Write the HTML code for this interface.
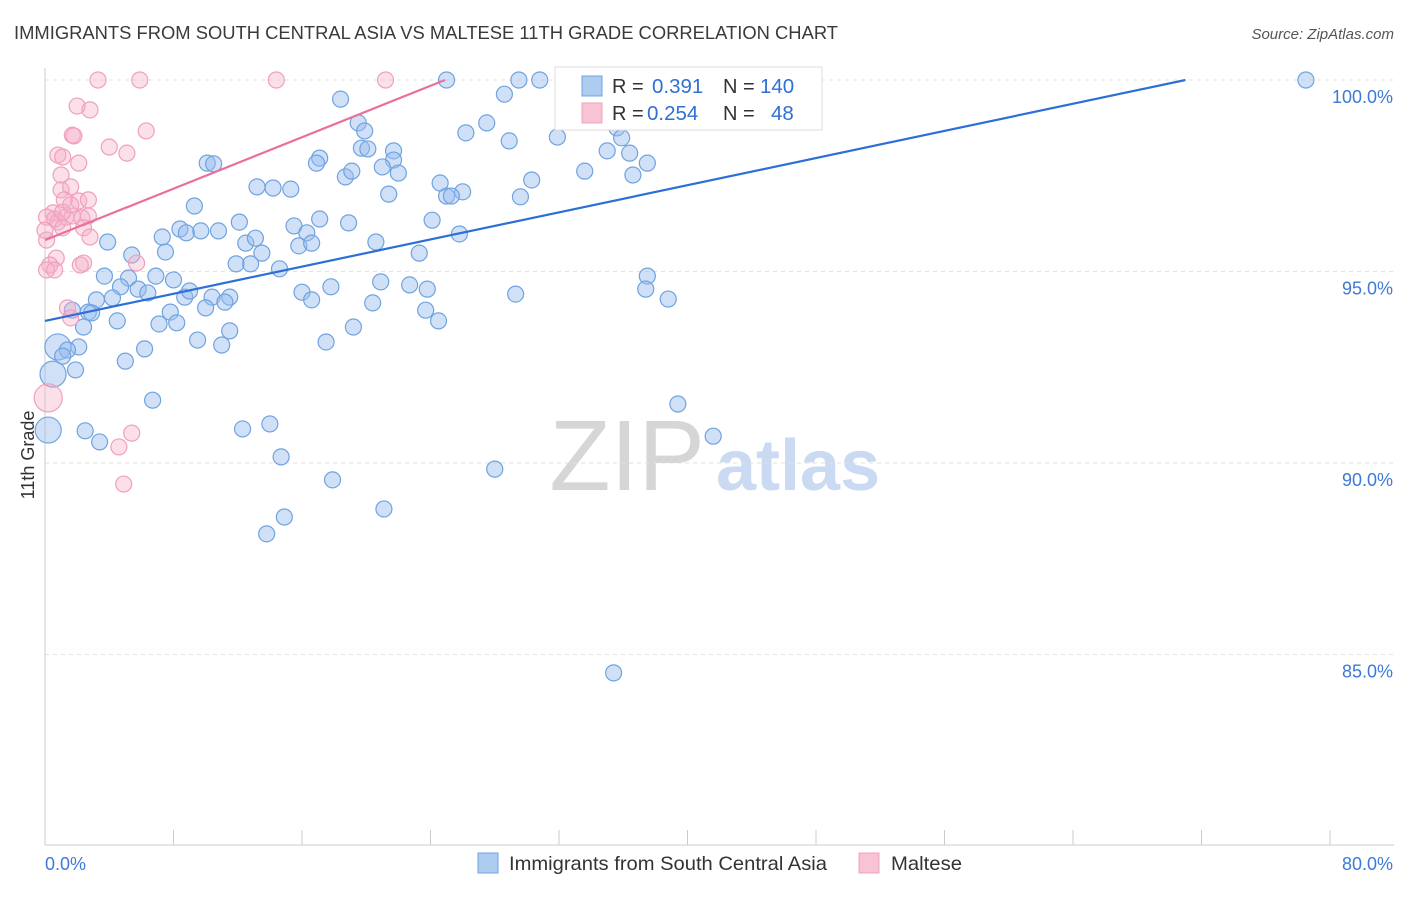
<!DOCTYPE html>
<html><head><meta charset="utf-8"><style>
body{margin:0;background:#fff;font-family:"Liberation Sans",sans-serif;}
svg text{font-family:"Liberation Sans",sans-serif;}
</style></head><body>
<svg id="chart" width="1406" height="892" viewBox="0 0 1406 892" xmlns="http://www.w3.org/2000/svg">
<text x="14" y="39" font-size="18.5" fill="#3a3a3a" textLength="824" lengthAdjust="spacingAndGlyphs">IMMIGRANTS FROM SOUTH CENTRAL ASIA VS MALTESE 11TH GRADE CORRELATION CHART</text>
<text x="1394" y="39" font-size="15" fill="#555" text-anchor="end" font-style="italic">Source: ZipAtlas.com</text>
<g>
<text x="705" y="490" font-size="100" fill="#d6d6d6" text-anchor="end" font-family="Liberation Serif, serif">ZIP</text>
<text x="716" y="490" font-size="72" fill="#c9daf2" font-weight="bold">atlas</text>
</g>
<g id="grid"></g>
<g id="axes"></g>
<g id="pts"></g>
<g id="lines"></g>
<g>
<rect x="555" y="67" width="267" height="63" fill="#fff" stroke="#ddd"/>
<rect x="582" y="76" width="20" height="20" fill="#aecbf0" stroke="#6fa3e0"/>
<text x="612" y="93" font-size="20" fill="#333">R =</text>
<text x="652" y="93" font-size="20.5" fill="#2f6fd6">0.391</text>
<text x="723" y="93" font-size="20" fill="#333">N =</text>
<text x="760" y="93" font-size="20.5" fill="#2f6fd6">140</text>
<rect x="582" y="103" width="20" height="20" fill="#f8c3d4" stroke="#f0a0bd"/>
<text x="612" y="120" font-size="20" fill="#333">R =</text>
<text x="647" y="120" font-size="20.5" fill="#2f6fd6">0.254</text>
<text x="723" y="120" font-size="20" fill="#333">N =</text>
<text x="771" y="120" font-size="20.5" fill="#2f6fd6">48</text>
</g>
<g>
<rect x="478" y="853" width="20" height="20" fill="#aecbf0" stroke="#6fa3e0"/>
<text x="509" y="870" font-size="19.5" fill="#333" textLength="318" lengthAdjust="spacingAndGlyphs">Immigrants from South Central Asia</text>
<rect x="859" y="853" width="20" height="20" fill="#f8c3d4" stroke="#f0a0bd"/>
<text x="891" y="870" font-size="19.5" fill="#333" textLength="71" lengthAdjust="spacingAndGlyphs">Maltese</text>
</g>
<text transform="translate(34,455) rotate(-90)" font-size="18" fill="#333" text-anchor="middle">11th Grade</text>
</svg>
<script>
const blueX=[78.5,25.0,29.5,30.8,28.6,18.4,27.5,26.2,28.9,19.5,19.9,19.7,20.1,21.7,21.7,21.0,22.0,21.4,17.1,16.9,18.7,19.1,10.1,10.5,13.2,14.2,15.3,24.6,26.0,25.0,25.3,30.3,29.6,31.9,33.2,35.6,35.9,35.0,36.4,37.5,36.6,33.6,9.3,8.4,8.8,9.7,10.8,12.1,7.3,7.5,3.9,5.4,15.5,16.3,17.1,18.9,24.1,25.8,20.6,15.8,16.6,12.5,13.1,13.5,11.9,12.8,14.6,23.3,3.7,5.2,6.9,8.0,4.7,5.8,6.4,4.2,3.2,8.7,9.0,10.4,11.5,11.2,10.0,7.8,16.0,16.6,17.8,20.9,20.4,22.7,23.8,23.7,24.5,19.2,17.5,29.3,37.5,37.4,38.8,1.7,2.7,2.9,4.5,7.1,8.2,2.4,9.5,11.5,11.0,6.2,5.0,2.1,0.8,1.4,1.1,1.9,0.5,0.2,2.5,3.4,6.7,12.3,14.0,14.7,17.9,21.1,14.9,13.8,28.0,39.4,41.6,35.4];
const blueY=[100,100,100,100,99.63,99.5,98.88,98.62,98.41,98.88,98.67,98.22,98.2,98.15,97.91,97.73,97.57,97.02,97.96,97.83,97.47,97.62,97.83,97.81,97.21,97.18,97.15,97.31,97.08,96.97,96.97,97.39,96.95,98.51,99.45,98.75,98.49,98.15,98.09,97.83,97.52,97.62,96.71,96.11,96.01,96.06,96.06,96.29,95.9,95.51,95.77,95.43,96.19,96.01,96.37,96.27,96.34,95.98,95.77,95.67,95.74,95.74,95.87,95.48,95.2,95.2,95.07,95.48,94.88,94.83,94.88,94.78,94.6,94.54,94.44,94.31,94.26,94.33,94.49,94.33,94.33,94.2,94.05,93.94,94.46,94.26,94.6,94.73,94.18,94.65,94.54,93.99,93.71,93.55,93.16,94.41,94.88,94.54,94.28,93.99,93.94,93.92,93.71,93.63,93.66,93.55,93.21,93.45,93.08,92.98,92.66,93.03,93.03,92.95,92.79,92.43,92.32,90.86,90.84,90.55,91.64,90.89,91.02,90.16,89.56,88.8,88.59,88.15,89.84,91.54,90.7,84.52];
const pinkX=[3.3,5.9,14.4,21.2,2.0,2.8,1.7,1.8,4.0,5.1,6.3,0.8,1.1,2.1,1.0,1.0,1.6,1.2,2.1,2.7,0.5,0.1,0.8,1.3,1.7,2.3,2.7,2.4,2.8,0.1,0.7,0.3,0.1,0.6,2.4,5.7,2.2,1.4,1.6,0.2,5.4,4.6,4.9,0.6,1.1,0.0,1.1,1.6];
const pinkY=[100,100,100,100,99.32,99.22,98.56,98.54,98.25,98.09,98.67,98.04,97.99,97.83,97.52,97.13,97.21,96.87,96.84,96.87,96.53,96.42,96.29,96.42,96.45,96.4,96.45,96.14,95.9,95.82,95.35,95.17,95.04,95.04,95.22,95.22,95.17,94.05,93.79,91.7,90.78,90.42,89.45,96.37,96.14,96.08,96.55,96.74];
const blueBig=[112,116,117];
const pinkBig=[39];
const trendIntercepts=[93.71,95.82];
const trendEnds=[71.0,24.9];
const yTicks=[100,95,90,85];
const yTickLabels=["100.0%","95.0%","90.0%","85.0%"];
const xTickVals=[0,8,16,24,32,40,48,56,64,72,80];

const NS="http://www.w3.org/2000/svg";
const sx=v=>45+v*(1285/80);
const sy=v=>80+(100-v)*38.3;
function mk(tag,attrs,parent){const e=document.createElementNS(NS,tag);for(const k in attrs)e.setAttribute(k,attrs[k]);parent.appendChild(e);return e;}
const grid=document.getElementById('grid'),axes=document.getElementById('axes'),pts=document.getElementById('pts'),lines=document.getElementById('lines');
yTicks.forEach((t,i)=>{
  const l=mk('line',{x1:45,x2:1394,y1:sy(t),y2:sy(t),stroke:'#e2e2e2','stroke-dasharray':'4,4'},grid);
  
  
  const tx=mk('text',{x:1393,y:sy(t)+23,'font-size':18,fill:'#3d7ad6','text-anchor':'end'},axes);
  tx.textContent=yTickLabels[i];
  
  
});
const ya=mk('line',{x1:45,x2:45,y1:68,y2:845,stroke:'#ccc'},axes);


const xa=mk('line',{x1:45,x2:1394,y1:845,y2:845,stroke:'#ccc'},axes);


xTickVals.forEach(v=>{
  const t=mk('line',{x1:sx(v),x2:sx(v),y1:830,y2:845,stroke:'#ccc'},axes);
  
  
});
const xl0=mk('text',{x:45,y:870,'font-size':18,fill:'#3d7ad6'},axes);xl0.textContent='0.0%';


const xl1=mk('text',{x:1393,y:870,'font-size':18,fill:'#3d7ad6','text-anchor':'end'},axes);xl1.textContent='80.0%';


blueX.forEach((x,i)=>{
  const c=mk('circle',{cx:sx(x),cy:sy(blueY[i]),r:blueBig.includes(i)?13:8,fill:'rgba(150,188,238,0.45)',stroke:'#6fa3e0','stroke-width':1.2},pts);
  
  
});
pinkX.forEach((x,i)=>{
  const c=mk('circle',{cx:sx(x),cy:sy(pinkY[i]),r:pinkBig.includes(i)?14:8,fill:'rgba(246,175,200,0.4)',stroke:'#f0a0bd','stroke-width':1.2},pts);
  
  
});
const colors=['#2d6fd6','#e8709a'];
trendIntercepts.forEach((b,i)=>{
  const l=mk('line',{x1:sx(0),y1:sy(b),x2:sx(trendEnds[i]),y2:sy(100),stroke:colors[i],'stroke-width':2.2},lines);
  
  
});
</script>
</body></html>
